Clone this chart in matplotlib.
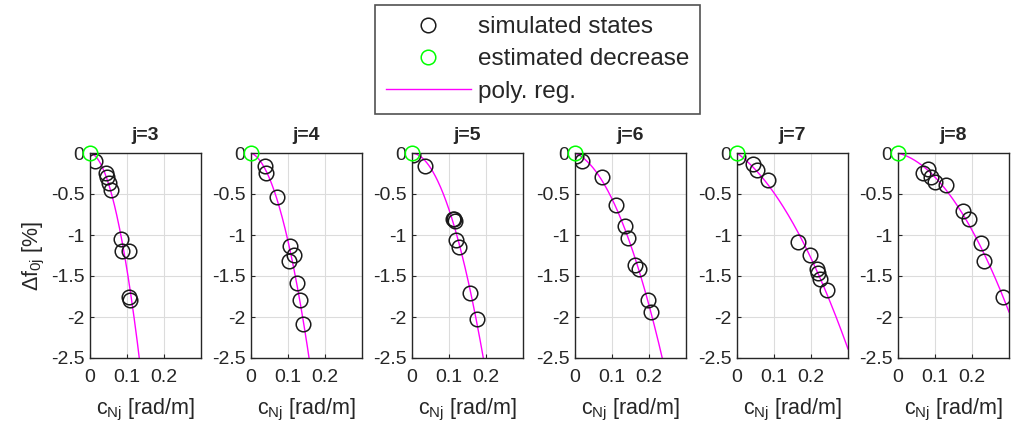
import numpy as np
import matplotlib.pyplot as plt

plt.rcParams['font.family'] = ['Liberation Sans', 'DejaVu Sans']
plt.rcParams['mathtext.fontset'] = 'custom'
plt.rcParams['mathtext.rm'] = 'Liberation Sans'
plt.rcParams['mathtext.it'] = 'Liberation Sans'

# simulated states: curvature c_Nj [rad/m] and frequency change [%]
modes = [3, 4, 5, 6, 7, 8]
c_j3 = [0.013, 0.043, 0.047, 0.051, 0.056, 0.084, 0.086, 0.105, 0.105, 0.109]
f_j3 = [-0.10, -0.24, -0.29, -0.37, -0.45, -1.05, -1.19, -1.19, -1.75, -1.79]
c_j4 = [0.037, 0.041, 0.070, 0.106, 0.115, 0.102, 0.123, 0.132, 0.141]
f_j4 = [-0.16, -0.24, -0.54, -1.13, -1.24, -1.32, -1.59, -1.79, -2.08]
c_j5 = [0.003, 0.036, 0.111, 0.113, 0.116, 0.120, 0.126, 0.156, 0.175]
f_j5 = [-0.02, -0.16, -0.80, -0.81, -0.83, -1.06, -1.15, -1.71, -2.03]
c_j6 = [0.004, 0.018, 0.072, 0.110, 0.135, 0.142, 0.161, 0.173, 0.197, 0.206]
f_j6 = [-0.04, -0.10, -0.29, -0.63, -0.89, -1.04, -1.36, -1.42, -1.79, -1.94]
c_j7 = [0.002, 0.042, 0.054, 0.085, 0.166, 0.197, 0.215, 0.218, 0.224, 0.242]
f_j7 = [-0.05, -0.14, -0.21, -0.33, -1.08, -1.24, -1.42, -1.46, -1.54, -1.67]
c_j8 = [0.067, 0.081, 0.090, 0.099, 0.130, 0.175, 0.193, 0.224, 0.233, 0.283]
f_j8 = [-0.24, -0.20, -0.29, -0.35, -0.39, -0.71, -0.81, -1.10, -1.32, -1.76]

c_all = [c_j3, c_j4, c_j5, c_j6, c_j7, c_j8]
f_all = [f_j3, f_j4, f_j5, f_j6, f_j7, f_j8]

# estimated decrease point (undamaged state)
c_est = 0.0
f_est = 0.0

fg = '#262626'
fig = plt.figure(figsize=(10.13, 4.32), dpi=100)
lefts = [90, 251, 412, 575, 737, 898]

for i, j in enumerate(modes):
    ax = fig.add_axes([lefts[i] / 1013, 74 / 432, 111 / 1013, 205 / 432])
    c = np.array(c_all[i])
    f = np.array(f_all[i])
    # quadratic regression through the origin
    A = np.column_stack([c, c ** 2])
    coef = np.linalg.lstsq(A, f, rcond=None)[0]
    xs = np.linspace(0, 0.3, 200)
    ys = coef[0] * xs + coef[1] * xs ** 2
    ax.plot(c, f, 'o', mfc='none', mec='#1a1a1a', ms=10.5, mew=1.1,
            label='simulated states', zorder=3)
    ax.plot([c_est], [f_est], 'o', mfc='none', mec='#00ff00', ms=10.5, mew=1.1,
            label='estimated decrease', zorder=4, clip_on=False)
    ax.plot(xs, ys, '-', color='#ff00ff', lw=1.0, label='poly. reg.', zorder=2)
    ax.set_xlim(0, 0.3)
    ax.set_ylim(-2.5, 0)
    ax.set_xticks([0, 0.1, 0.2])
    ax.set_xticklabels(['0', '0.1', '0.2'])
    ax.set_yticks([-2.5, -2, -1.5, -1, -0.5, 0])
    ax.set_yticklabels(['-2.5', '-2', '-1.5', '-1', '-0.5', '0'])
    ax.grid(True, color='#dcdcdc', lw=0.8)
    ax.set_axisbelow(True)
    ax.tick_params(direction='in', length=3, colors=fg, labelsize=14)
    ax.tick_params(axis='x', pad=8)
    ax.tick_params(axis='y', pad=4)
    for s in ax.spines.values():
        s.set_color(fg)
        s.set_linewidth(1.0)
    ax.set_title(f'j={j}', fontsize=14, fontweight='bold', color=fg, pad=9)
    ax.set_xlabel('c$_{\\mathrm{Nj}}$ [rad/m]', fontsize=15.5, color=fg, labelpad=8)
    if i == 0:
        ax.set_ylabel('$\\Delta$f$_{\\mathrm{0j}}$ [%]', fontsize=15.5, color=fg, labelpad=3)
        handles, labels = ax.get_legend_handles_labels()

leg = fig.legend(handles, labels, loc='upper center', bbox_to_anchor=(0.5306, 0.988),
                 fontsize=17.5, frameon=True, fancybox=False, handlelength=3.5,
                 borderpad=0.45, labelspacing=0.42, handletextpad=0.3, borderaxespad=0)
leg.get_frame().set_edgecolor(fg)
leg.get_frame().set_linewidth(1.2)
for t in leg.get_texts():
    t.set_color(fg)

fig.savefig('out.png', dpi=100)
